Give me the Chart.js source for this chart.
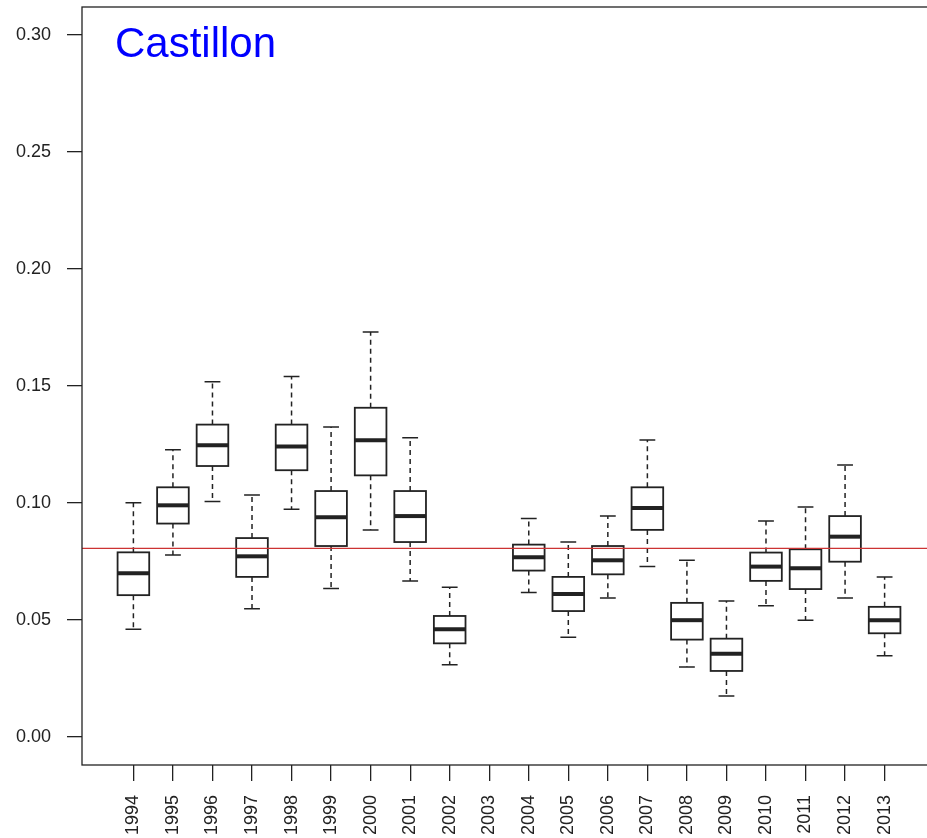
<!DOCTYPE html>
<html>
<head>
<meta charset="utf-8">
<script src="https://cdn.jsdelivr.net/npm/chart.js@4"></script>
<style>
  html, body { margin: 0; padding: 0; overflow: hidden; background: #fff; }
</style>
</head>
<body>
<canvas id="chart" width="945" height="838"></canvas>
<script>
// Yearly box plots (2003 has no data)
const years = ["1994", "1995", "1996", "1997", "1998", "1999", "2000", "2001", "2002", "2003",
               "2004", "2005", "2006", "2007", "2008", "2009", "2010", "2011", "2012", "2013"];
const lowWhisker  = [0.0460, 0.0778, 0.1006, 0.0548, 0.0973, 0.0634, 0.0885, 0.0667, 0.0309, null,
                     0.0617, 0.0426, 0.0594, 0.0728, 0.0299, 0.0175, 0.0561, 0.0499, 0.0594, 0.0347];
const lowQuartile = [0.0606, 0.0912, 0.1158, 0.0684, 0.1140, 0.0816, 0.1118, 0.0833, 0.0400, null,
                     0.0711, 0.0538, 0.0695, 0.0885, 0.0416, 0.0282, 0.0667, 0.0632, 0.0749, 0.0443];
const median      = [0.0700, 0.0990, 0.1247, 0.0772, 0.1241, 0.0939, 0.1268, 0.0944, 0.0460, null,
                     0.0768, 0.0611, 0.0755, 0.0979, 0.0499, 0.0355, 0.0728, 0.0721, 0.0856, 0.0499];
const highQuartile = [0.0789, 0.1067, 0.1335, 0.0850, 0.1335, 0.1051, 0.1407, 0.1051, 0.0517, null,
                      0.0822, 0.0684, 0.0816, 0.1067, 0.0573, 0.0420, 0.0788, 0.0802, 0.0944, 0.0556];
const highWhisker = [0.1001, 0.1228, 0.1518, 0.1034, 0.1541, 0.1325, 0.1731, 0.1279, 0.0640, null,
                     0.0934, 0.0833, 0.0944, 0.1269, 0.0755, 0.0581, 0.0923, 0.0983, 0.1162, 0.0684];
const refLine = 0.0806;
const yTicks = [0, 0.05, 0.10, 0.15, 0.20, 0.25, 0.30];

const ink = "#222";

// boxes, whiskers and medians, placed with the chart's scales
const boxPlot = {
    id: "boxPlot",
    beforeDatasetsDraw(chart) {
        const ctx = chart.ctx;
        const x = chart.scales.x, y = chart.scales.y;
        ctx.save();
        ctx.strokeStyle = ink;
        years.forEach((yr, i) => {
            if (median[i] == null) return;
            const pos = i + 1;
            const cx = x.getPixelForValue(pos);
            const left = x.getPixelForValue(pos - 0.4), right = x.getPixelForValue(pos + 0.4);
            const sl = x.getPixelForValue(pos - 0.2), sr = x.getPixelForValue(pos + 0.2);
            const yLo = y.getPixelForValue(lowWhisker[i]), yQ1 = y.getPixelForValue(lowQuartile[i]);
            const yMed = y.getPixelForValue(median[i]), yQ3 = y.getPixelForValue(highQuartile[i]);
            const yHi = y.getPixelForValue(highWhisker[i]);

            // dashed whiskers
            ctx.lineWidth = 1.5;
            ctx.setLineDash([5, 4]);
            ctx.beginPath();
            ctx.moveTo(cx, yQ3); ctx.lineTo(cx, yHi);
            ctx.moveTo(cx, yQ1); ctx.lineTo(cx, yLo);
            ctx.stroke();

            // staples
            ctx.setLineDash([]);
            ctx.beginPath();
            ctx.moveTo(sl, yHi); ctx.lineTo(sr, yHi);
            ctx.moveTo(sl, yLo); ctx.lineTo(sr, yLo);
            ctx.stroke();

            // box
            ctx.lineWidth = 1.8;
            ctx.strokeRect(left, yQ3, right - left, yQ1 - yQ3);

            // median
            ctx.lineWidth = 4;
            ctx.beginPath();
            ctx.moveTo(left, yMed); ctx.lineTo(right, yMed);
            ctx.stroke();
        });
        ctx.restore();
    },
    afterDraw(chart) {
        const ctx = chart.ctx;
        const a = chart.chartArea;
        ctx.save();
        // frame round the plot
        ctx.strokeStyle = ink;
        ctx.lineWidth = 1.3;
        ctx.strokeRect(a.left, a.top, a.right - a.left, a.bottom - a.top);
        // site name inside the plot
        ctx.fillStyle = "#0000ff";
        ctx.font = "42px 'Liberation Sans', Arial, sans-serif";
        ctx.textBaseline = "alphabetic";
        ctx.fillText("Castillon", a.left + 33, a.top + 50);
        ctx.restore();
    }
};

const tickFont = { family: "'Liberation Sans', Arial, sans-serif", size: 18 };

new Chart(document.getElementById("chart"), {
    type: "scatter",
    data: {
        datasets: [
            {
                label: "mean",
                data: [{ x: -0.3, y: refLine }, { x: 21.3, y: refLine }],
                showLine: true,
                borderColor: "#cc3333",
                borderWidth: 1.3,
                pointRadius: 0
            }
        ]
    },
    options: {
        responsive: false,
        animation: false,
        layout: { padding: { top: 7, right: 9, left: 0, bottom: 0 } },
        scales: {
            x: {
                type: "linear",
                min: -0.3,
                max: 21.3,
                afterBuildTicks: s => { s.ticks = years.map((_, i) => ({ value: i + 1 })); },
                afterFit: s => { s.height = 73; s.paddingLeft = 0; s.paddingRight = 0; },
                ticks: {
                    callback: (v, i) => years[i],
                    autoSkip: false,
                    minRotation: 90,
                    maxRotation: 90,
                    padding: 14,
                    color: ink,
                    font: tickFont
                },
                grid: { drawOnChartArea: false, tickLength: 16, color: ink, lineWidth: 1.3 },
                border: { display: false }
            },
            y: {
                min: -0.012,
                max: 0.312,
                afterBuildTicks: s => { s.ticks = yTicks.map(v => ({ value: v })); },
                afterFit: s => { s.width = 82; s.paddingTop = 0; s.paddingBottom = 0; },
                ticks: {
                    callback: v => v.toFixed(2),
                    padding: 16,
                    color: ink,
                    font: tickFont
                },
                grid: { drawOnChartArea: false, tickLength: 15, color: ink, lineWidth: 1.3 },
                border: { display: false }
            }
        },
        plugins: {
            legend: { display: false },
            tooltip: { enabled: false }
        }
    },
    plugins: [boxPlot]
});
</script>
</body>
</html>
